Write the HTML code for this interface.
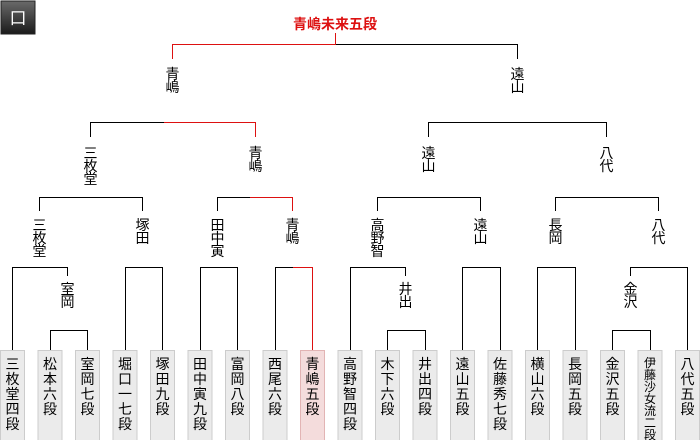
<!DOCTYPE html>
<html><head><meta charset="utf-8"><style>
html,body{margin:0;padding:0;background:#fff;width:700px;height:440px;overflow:hidden}
svg{display:block;font-family:"Liberation Sans","Noto Sans CJK JP",sans-serif}
</style></head><body>
<svg width="700" height="440" viewBox="0 0 700 440">
<defs><linearGradient id="g" x1="0" y1="0" x2="0" y2="1"><stop offset="0" stop-color="#6a6a6a"/><stop offset="1" stop-color="#1a1a1a"/></linearGradient></defs>
<rect x="1" y="1" width="34" height="33" fill="url(#g)" stroke="#222"/>
<text x="18" y="24" fill="#fff" font-size="17" text-anchor="middle">口</text>
<text x="335" y="29" fill="#d11" font-size="14" font-weight="bold" text-anchor="middle">青嶋未来五段</text>
<g fill="none" stroke="#000" stroke-width="1">
<path d="M335.5 44.5H517.5V59"/>
<path d="M90.5 137V122.5H164"/>
<path d="M428.5 137V122.5H606.5V137"/>
<path d="M39.5 211V197.5H142.5V211"/>
<path d="M217.5 211V197.5H250"/>
<path d="M377.5 211V197.5H480.5V211"/>
<path d="M555.5 211V197.5H658.5V211"/>
<path d="M12.5 350V267.5H67.5V276"/>
<path d="M125.5 350V267.5H162.5V350"/>
<path d="M200.5 350V267.5H237.5V350"/>
<path d="M275.5 350V267.5H293"/>
<path d="M350.5 350V267.5H405.5V276"/>
<path d="M462.5 350V267.5H500.5V350"/>
<path d="M537.5 350V267.5H575.5V350"/>
<path d="M630.5 276V267.5H687.5V350"/>
<path d="M50.5 350V330.5H87.5V350"/>
<path d="M387.5 350V330.5H425.5V350"/>
<path d="M612.5 350V330.5H650.5V350"/>
</g>
<g fill="none" stroke="#d11" stroke-width="1">
<path d="M335.5 33V44.5H172.5V59"/>
<path d="M164 122.5H255.5V137"/>
<path d="M250 197.5H292.5V211"/>
<path d="M293 267.5H312.5V350"/>
</g>
<g font-size="14" text-anchor="middle" fill="#000">
<text x="172.5" y="79">青</text><text x="172.5" y="92">嶋</text>
<text x="517.5" y="79">遠</text><text x="517.5" y="92">山</text>
<text x="90.5" y="158">三</text><text x="90.5" y="171">枚</text><text x="90.5" y="184">堂</text>
<text x="255.5" y="158">青</text><text x="255.5" y="171">嶋</text>
<text x="428.5" y="158">遠</text><text x="428.5" y="171">山</text>
<text x="606.5" y="158">八</text><text x="606.5" y="171">代</text>
<text x="39.5" y="230">三</text><text x="39.5" y="243">枚</text><text x="39.5" y="256">堂</text>
<text x="142.5" y="230">塚</text><text x="142.5" y="243">田</text>
<text x="217.5" y="230">田</text><text x="217.5" y="243">中</text><text x="217.5" y="256">寅</text>
<text x="292.5" y="230">青</text><text x="292.5" y="243">嶋</text>
<text x="377.5" y="230">高</text><text x="377.5" y="243">野</text><text x="377.5" y="256">智</text>
<text x="480.5" y="230">遠</text><text x="480.5" y="243">山</text>
<text x="555.5" y="230">長</text><text x="555.5" y="243">岡</text>
<text x="658.5" y="230">八</text><text x="658.5" y="243">代</text>
<text x="67.5" y="294">室</text><text x="67.5" y="307">岡</text>
<text x="405.5" y="294">井</text><text x="405.5" y="307">出</text>
<text x="630.5" y="294">金</text><text x="630.5" y="307">沢</text>
</g>
<g stroke-width="1">
<rect x="0.5" y="350.5" width="24" height="95" fill="#ebebeb" stroke="#ccc"/>
<rect x="38" y="350.5" width="24" height="95" fill="#ebebeb" stroke="#ccc"/>
<rect x="75.5" y="350.5" width="24" height="95" fill="#ebebeb" stroke="#ccc"/>
<rect x="113" y="350.5" width="24" height="95" fill="#ebebeb" stroke="#ccc"/>
<rect x="150.5" y="350.5" width="24" height="95" fill="#ebebeb" stroke="#ccc"/>
<rect x="188" y="350.5" width="24" height="95" fill="#ebebeb" stroke="#ccc"/>
<rect x="225.5" y="350.5" width="24" height="95" fill="#ebebeb" stroke="#ccc"/>
<rect x="263" y="350.5" width="24" height="95" fill="#ebebeb" stroke="#ccc"/>
<rect x="300.5" y="350.5" width="24" height="95" fill="#f4dcdc" stroke="#e2b4b4"/>
<rect x="338" y="350.5" width="24" height="95" fill="#ebebeb" stroke="#ccc"/>
<rect x="375.5" y="350.5" width="24" height="95" fill="#ebebeb" stroke="#ccc"/>
<rect x="413" y="350.5" width="24" height="95" fill="#ebebeb" stroke="#ccc"/>
<rect x="450.5" y="350.5" width="24" height="95" fill="#ebebeb" stroke="#ccc"/>
<rect x="488" y="350.5" width="24" height="95" fill="#ebebeb" stroke="#ccc"/>
<rect x="525.5" y="350.5" width="24" height="95" fill="#ebebeb" stroke="#ccc"/>
<rect x="563" y="350.5" width="24" height="95" fill="#ebebeb" stroke="#ccc"/>
<rect x="600.5" y="350.5" width="24" height="95" fill="#ebebeb" stroke="#ccc"/>
<rect x="638" y="350.5" width="24" height="95" fill="#ebebeb" stroke="#ccc"/>
<rect x="675.5" y="350.5" width="24" height="95" fill="#ebebeb" stroke="#ccc"/>
</g>
<g font-size="14" text-anchor="middle" fill="#000">
<text x="12.5" y="369">三</text><text x="12.5" y="384">枚</text><text x="12.5" y="399">堂</text><text x="12.5" y="414">四</text><text x="12.5" y="429">段</text>
<text x="50" y="369">松</text><text x="50" y="384">本</text><text x="50" y="399">六</text><text x="50" y="414">段</text>
<text x="87.5" y="369">室</text><text x="87.5" y="384">岡</text><text x="87.5" y="399">七</text><text x="87.5" y="414">段</text>
<text x="125" y="369">堀</text><text x="125" y="384">口</text><text x="125" y="399">一</text><text x="125" y="414">七</text><text x="125" y="429">段</text>
<text x="162.5" y="369">塚</text><text x="162.5" y="384">田</text><text x="162.5" y="399">九</text><text x="162.5" y="414">段</text>
<text x="200" y="369">田</text><text x="200" y="384">中</text><text x="200" y="399">寅</text><text x="200" y="414">九</text><text x="200" y="429">段</text>
<text x="237.5" y="369">富</text><text x="237.5" y="384">岡</text><text x="237.5" y="399">八</text><text x="237.5" y="414">段</text>
<text x="275" y="369">西</text><text x="275" y="384">尾</text><text x="275" y="399">六</text><text x="275" y="414">段</text>
<text x="312.5" y="369">青</text><text x="312.5" y="384">嶋</text><text x="312.5" y="399">五</text><text x="312.5" y="414">段</text>
<text x="350" y="369">高</text><text x="350" y="384">野</text><text x="350" y="399">智</text><text x="350" y="414">四</text><text x="350" y="429">段</text>
<text x="387.5" y="369">木</text><text x="387.5" y="384">下</text><text x="387.5" y="399">六</text><text x="387.5" y="414">段</text>
<text x="425" y="369">井</text><text x="425" y="384">出</text><text x="425" y="399">四</text><text x="425" y="414">段</text>
<text x="462.5" y="369">遠</text><text x="462.5" y="384">山</text><text x="462.5" y="399">五</text><text x="462.5" y="414">段</text>
<text x="500" y="369">佐</text><text x="500" y="384">藤</text><text x="500" y="399">秀</text><text x="500" y="414">七</text><text x="500" y="429">段</text>
<text x="537.5" y="369">横</text><text x="537.5" y="384">山</text><text x="537.5" y="399">六</text><text x="537.5" y="414">段</text>
<text x="575" y="369">長</text><text x="575" y="384">岡</text><text x="575" y="399">五</text><text x="575" y="414">段</text>
<text x="612.5" y="369">金</text><text x="612.5" y="384">沢</text><text x="612.5" y="399">五</text><text x="612.5" y="414">段</text>
<text x="687.5" y="369">八</text><text x="687.5" y="384">代</text><text x="687.5" y="399">五</text><text x="687.5" y="414">段</text>
</g>
<g font-size="12" text-anchor="middle" fill="#000">
<text x="650" y="367">伊</text><text x="650" y="379">藤</text><text x="650" y="391">沙</text><text x="650" y="403">女</text><text x="650" y="415">流</text><text x="650" y="427">二</text><text x="650" y="439">段</text>
</g>
</svg>
</body></html>
